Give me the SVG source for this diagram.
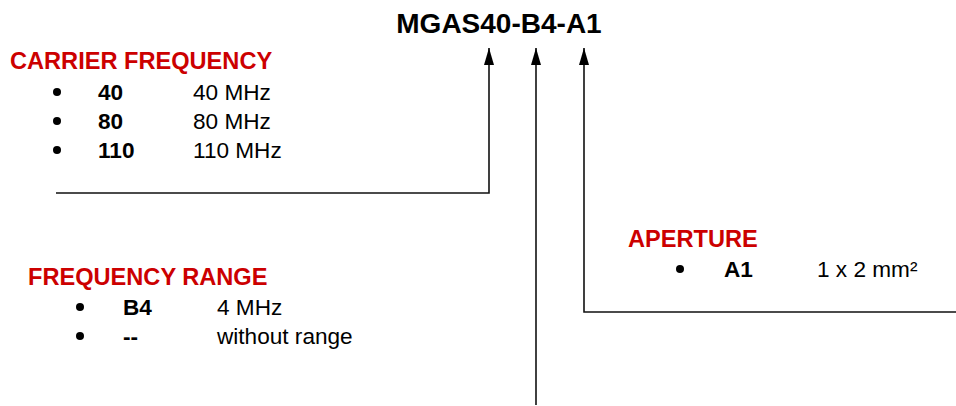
<svg xmlns="http://www.w3.org/2000/svg" width="956" height="406" viewBox="0 0 956 406">
  <defs>
    <style>
      text { font-family: "Liberation Sans", Arial, sans-serif; fill: #000; }
      .title { font-size: 28px; font-weight: bold; text-anchor: middle; }
      .head { font-size: 23.6px; font-weight: bold; fill: #CC0000; }
      .item { font-size: 22.6px; }
      .code { font-size: 22.6px; font-weight: bold; }
      .dot { fill: #000; }
      .wire { fill: none; stroke: #111; stroke-width: 1.6; }
      .tip { fill: #000; }
    </style>
    <!-- arrowhead drawn along +x so orient="auto" points it up the wire -->
    <marker id="arrow" viewBox="0 0 17 10" refX="17" refY="5" markerWidth="17" markerHeight="10" markerUnits="userSpaceOnUse" orient="auto">
      <path d="M0,0 L17,5 L0,10 Z" class="tip"/>
    </marker>
  </defs>

  <rect width="956" height="406" fill="#fff"/>

  <g id="part-number">
    <text class="title" x="499" y="33">MGAS40-B4-A1</text>
  </g>

  <g id="carrier-frequency">
    <text class="head" x="10" y="69">CARRIER FREQUENCY</text>
    <circle class="dot" cx="57" cy="92" r="4"/>
    <text class="code" x="98" y="100">40</text>
    <text class="item" x="193" y="100">40 MHz</text>
    <circle class="dot" cx="57" cy="121" r="4"/>
    <text class="code" x="98" y="129">80</text>
    <text class="item" x="193" y="129">80 MHz</text>
    <circle class="dot" cx="57" cy="150" r="4"/>
    <text class="code" x="98" y="158">110</text>
    <text class="item" x="193" y="158">110 MHz</text>
  </g>

  <g id="frequency-range">
    <text class="head" x="28" y="285">FREQUENCY RANGE</text>
    <circle class="dot" cx="80" cy="307" r="4"/>
    <text class="code" x="123" y="315">B4</text>
    <text class="item" x="217" y="315">4 MHz</text>
    <circle class="dot" cx="80" cy="336" r="4"/>
    <text class="code" x="123" y="344">--</text>
    <text class="item" x="217" y="344">without range</text>
  </g>

  <g id="aperture">
    <text class="head" x="628" y="247">APERTURE</text>
    <circle class="dot" cx="680" cy="269" r="4"/>
    <text class="code" x="724" y="277">A1</text>
    <text class="item" x="817" y="277">1 x 2 mm²</text>
  </g>

  <g id="connectors">
    <path class="wire" d="M56,193 H489 V48" marker-end="url(#arrow)"/>
    <path class="wire" d="M536,405 V48" marker-end="url(#arrow)"/>
    <path class="wire" d="M956,312 H584 V48" marker-end="url(#arrow)"/>
  </g>
</svg>
